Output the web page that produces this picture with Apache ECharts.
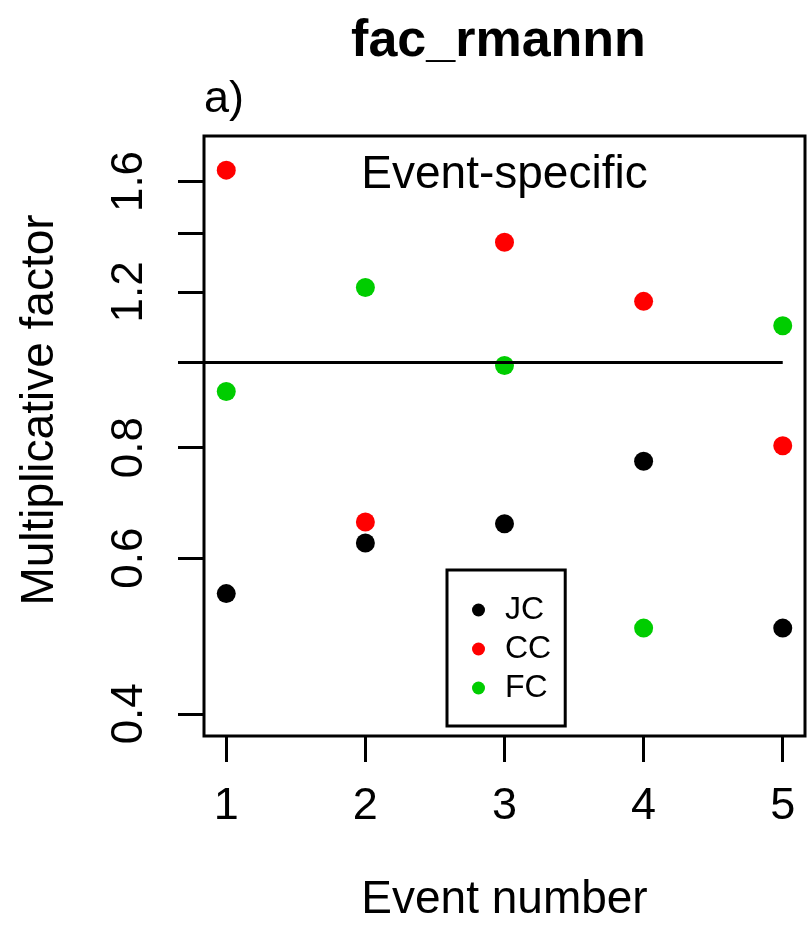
<!DOCTYPE html>
<html>
<head>
<meta charset="utf-8">
<script src="https://cdn.jsdelivr.net/npm/echarts@6/dist/echarts.min.js"></script>
<style>
  html, body { margin: 0; padding: 0; background: #ffffff; }
  #chart { width: 808px; height: 929px; }
</style>
</head>
<body>
<div id="chart"></div>
<script>
// Event numbers on the x axis
const events = [1, 2, 3, 4, 5];
// Multiplicative factor per event, one array per series
const jcValues = [0.547, 0.624, 0.656, 0.772, 0.500];
const ccValues = [1.648, 0.659, 1.366, 1.171, 0.804];
const fcValues = [0.926, 1.214, 0.991, 0.500, 1.099];
// Tick positions and the subset that gets a printed label
const yTickValues = [0.4, 0.6, 0.8, 1.0, 1.2, 1.4, 1.6];
const yLabelValues = [0.4, 0.6, 0.8, 1.2, 1.6];
const xTickValues = [1, 2, 3, 4, 5];
// y limits of the log axis and the reference level drawn as a line
const yLimits = [0.4, 1.7];
const referenceLevel = 1;

const FONT = '"Liberation Sans", Arial, Helvetica, sans-serif';

// Pad both axes by 4% of their range (log range for y), like base graphics do
const xPad = 0.04 * (events[events.length - 1] - events[0]);
const xMin = events[0] - xPad;
const xMax = events[events.length - 1] + xPad;
const logSpan = Math.log10(yLimits[1]) - Math.log10(yLimits[0]);
const yMin = Math.pow(10, Math.log10(yLimits[0]) - 0.04 * logSpan);
const yMax = Math.pow(10, Math.log10(yLimits[1]) + 0.04 * logSpan);

const toPoints = vals => events.map((e, i) => [e, vals[i]]);

const chart = echarts.init(document.getElementById('chart'), null, { renderer: 'canvas' });

const gridLeft = 204, gridRight = 3, gridTop = 136, gridBottom = 193;
const plotCenterX = gridLeft + (808 - gridLeft - gridRight) / 2;
const LINE_W = 3;

const pointStyle = color => ({ color: color, opacity: 1 });

chart.setOption({
  animation: false,
  backgroundColor: '#ffffff',
  grid: {
    left: gridLeft, right: gridRight, top: gridTop, bottom: gridBottom,
    show: true, borderColor: '#000000', borderWidth: LINE_W, backgroundColor: 'transparent'
  },
  xAxis: {
    type: 'value', min: xMin, max: xMax,
    axisLine: { show: false },
    splitLine: { show: false },
    axisTick: { show: true, length: 26, lineStyle: { color: '#000', width: LINE_W }, customValues: xTickValues },
    axisLabel: {
      show: true, customValues: xTickValues, margin: 48,
      fontSize: 45, color: '#000', fontFamily: FONT,
      formatter: v => String(Math.round(v))
    }
  },
  yAxis: {
    type: 'log', logBase: 10, min: yMin, max: yMax,
    axisLine: { show: false },
    splitLine: { show: false },
    axisTick: { show: true, length: 26, lineStyle: { color: '#000', width: LINE_W }, customValues: yTickValues },
    axisLabel: {
      show: true, customValues: yLabelValues, rotate: 90, margin: 52,
      fontSize: 44, color: '#000', fontFamily: FONT,
      formatter: v => Number(v).toFixed(1)
    }
  },
  legend: {
    orient: 'vertical',
    left: 447, top: 570,
    data: ['JC', 'CC', 'FC'],
    icon: 'circle',
    itemWidth: 13, itemHeight: 13,
    itemGap: 7,
    padding: [24, 14, 22, 25],
    borderColor: '#000', borderWidth: LINE_W, borderRadius: 0,
    backgroundColor: '#ffffff',
    selectedMode: false,
    textStyle: { fontSize: 32, lineHeight: 32, color: '#000', fontFamily: FONT, padding: [0, 0, 0, 15] }
  },
  graphic: [
    {
      type: 'text', x: plotCenterX - 6, y: 42,
      style: { text: 'fac_rmannn', font: 'bold 52px ' + FONT, fill: '#000', align: 'center', verticalAlign: 'middle' }
    },
    {
      type: 'text', x: 204, y: 100,
      style: { text: 'a)', font: '45px ' + FONT, fill: '#000', align: 'left', verticalAlign: 'middle' }
    },
    {
      type: 'text', x: plotCenterX, y: 175,
      style: { text: 'Event-specific', font: '46px ' + FONT, fill: '#000', align: 'center', verticalAlign: 'middle' }
    },
    {
      type: 'text', x: plotCenterX, y: 900,
      style: { text: 'Event number', font: '46px ' + FONT, fill: '#000', align: 'center', verticalAlign: 'middle' }
    },
    {
      type: 'text', x: 40, y: 410, rotation: Math.PI / 2,
      style: { text: 'Multiplicative factor', font: '46px ' + FONT, fill: '#000', align: 'center', verticalAlign: 'middle' }
    }
  ],
  series: [
    {
      name: 'JC', type: 'scatter', data: toPoints(jcValues),
      symbol: 'circle', symbolSize: 19, itemStyle: pointStyle('#000000'), silent: true,
      markLine: {
        silent: true, symbol: 'none', label: { show: false },
        lineStyle: { color: '#000', width: LINE_W, type: 'solid', opacity: 1 },
        data: [[{ coord: [xMin, referenceLevel] }, { coord: [events[events.length - 1], referenceLevel] }]]
      }
    },
    {
      name: 'CC', type: 'scatter', data: toPoints(ccValues),
      symbol: 'circle', symbolSize: 19, itemStyle: pointStyle('#ff0000'), silent: true
    },
    {
      name: 'FC', type: 'scatter', data: toPoints(fcValues),
      symbol: 'circle', symbolSize: 19, itemStyle: pointStyle('#00cd00'), silent: true
    }
  ]
});
</script>
</body>
</html>
